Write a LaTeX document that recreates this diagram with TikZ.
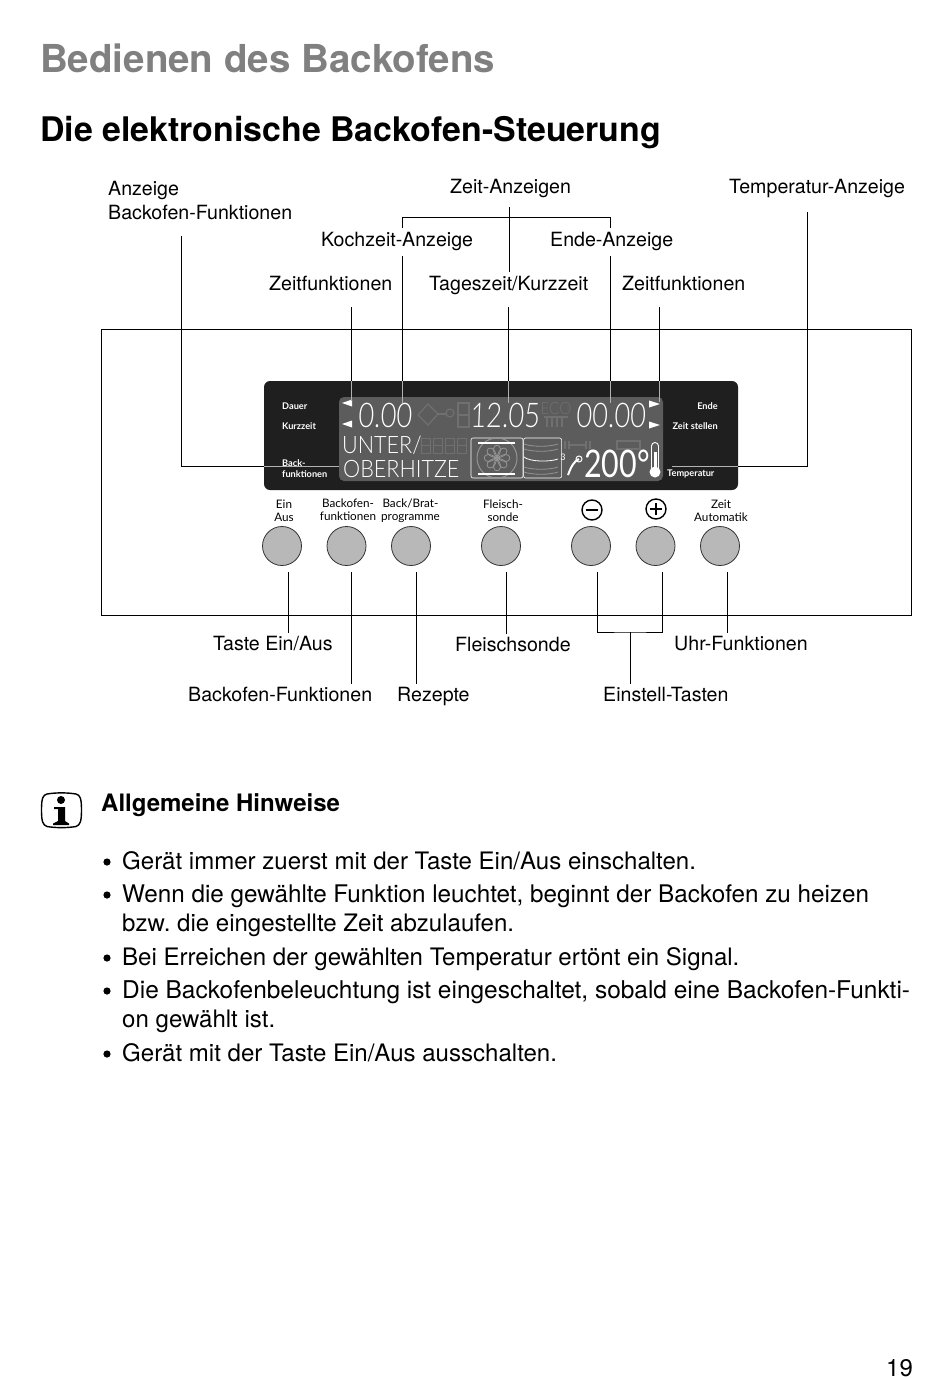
\documentclass[tikz,border=0pt]{standalone}
\usepackage{fontspec}
\usetikzlibrary{positioning}
\setmainfont{TeX Gyre Heros}
\newfontfamily\panelfont{Lato}
\newfontfamily\lcdfont[FakeStretch=0.8,FakeSlant=0.04]{Lato Light}
\newfontfamily\lcdtext[FakeStretch=0.9]{Lato Light}
\newfontfamily\lcdtemp[FakeStretch=0.8]{Lato}
\frenchspacing
\definecolor{titlegray}{gray}{0.5}
\definecolor{lcdgray}{gray}{0.36}
\definecolor{ghostgray}{gray}{0.44}
\definecolor{fangray}{gray}{0.58}
\definecolor{panelblack}{gray}{0.12}
\tikzset{
    lbl/.style = {inner sep=0pt, anchor=base west, font=\fontsize{19.6}{19.6}\selectfont},
    body/.style = {inner sep=0pt, anchor=base west, font=\fontsize{24.05}{24.05}\selectfont},
    tag/.style = {inner sep=0pt, align=center, text=white, font=\panelfont\bfseries\fontsize{9.2}{11.5}\selectfont},
    btntag/.style = {inner sep=0pt, align=center, font=\panelfont\fontsize{11.7}{13}\selectfont},
    lcd/.style = {inner sep=0pt, anchor=base west, text=white, font=\lcdfont\fontsize{34}{34}\selectfont},
    lcdline/.style = {inner sep=0pt, anchor=base west, text=white, font=\lcdtext\fontsize{24}{24}\selectfont},
    ghost/.style = {inner sep=0pt, text=ghostgray, font=\lcdtext\fontsize{17}{17}\selectfont},
    leader/.style = {draw=black, line width=0.9pt},
    leaderlit/.style = {draw=black!30, line width=0.9pt},
    button/.style = {circle, draw=black!80, line width=0.8pt, fill=black!28, minimum size=39pt, inner sep=0pt},
}
\begin{document}
\begin{tikzpicture}[x=1pt, y=-1pt]
    \useasboundingbox (0,0) rectangle (950,1378);

    % headings
    \node (title) [inner sep=0pt, anchor=base west, text=titlegray, font=\bfseries\fontsize{38.5}{38.5}\selectfont] at (40,73) {Bedienen des Backofens};
    \node (subtitle) [inner sep=0pt, anchor=base west, font=\bfseries\fontsize{33.9}{33.9}\selectfont] at (40,142) {Die elektronische Backofen-Steuerung};

    % housing and display
    \node (housing) [draw=black, line width=0.7pt, minimum width=810pt, minimum height=286pt, inner sep=0pt] at (506.5,472) {};
    \node (panel) [fill=panelblack, rounded corners=6pt, minimum width=474pt, minimum height=109pt, inner sep=0pt] at (501,435.5) {};
    \node (screen) [fill=lcdgray, rounded corners=5pt, minimum width=324pt, minimum height=84pt, inner sep=0pt] at (501,439) {};

    % labels left and right of the screen
    \node (tagDauer) [tag, anchor=west] at (282,406) {Dauer};
    \node (tagKurz) [tag, anchor=west] at (282,426) {Kurzzeit};
    \node (tagBack) [tag, anchor=west, align=left] at (282,468.5) {Back-\\funktionen};
    \node (tagEnde) [tag, anchor=east] at (718,406) {Ende};
    \node (tagStellen) [tag, anchor=east] at (718,426) {Zeit stellen};
    \node (tagTemp) [tag, anchor=west] at (667,474) {Temperatur};

    % unlit segments
    \node (ecoMark) [ghost] at (556,408) {ECO};
    \draw[ghostgray, line width=1.2pt] (544,417) -- (568,417);
    \foreach \tooth in {547,552,557,562}
        \draw[ghostgray, line width=1.2pt] (\tooth,417) -- (\tooth,427);
    \draw[ghostgray, line width=1.2pt] (418,415) -- (428,404) -- (438,414) -- (428,425) -- cycle;
    \draw[ghostgray, line width=1.2pt] (438,414) -- (446,414);
    \draw[ghostgray, line width=1.2pt] (450,413) circle (4pt);
    \draw[ghostgray, line width=1.2pt] (458,403) rectangle (469,427) (458,415) -- (469,415);
    \foreach \cell in {421,433,445,457}
        \draw[ghostgray, line width=1pt] (\cell,438) rectangle (\cell+9,453) (\cell,445.5) -- (\cell+9,445.5);
    \draw[ghostgray, line width=1.2pt] (565,441) -- (565,449) (569,441) -- (569,449) (569,445) -- (586,445) (586,441) -- (586,449) (590,441) -- (590,449);
    \draw[ghostgray, line width=1.2pt] (617,441) rectangle (640,449);

    % screen contents
    \node (zeitDauer) [lcd] at (358,427) {0.00};
    \node (zeitTag) [lcd] at (470,427) {12.05};
    \node (zeitEnde) [lcd] at (576,427) {00.00};
    \node (textUnter) [lcdline] at (342,453) {UNTER/};
    \node (textOber) [lcdline] at (343,477) {OBERHITZE};
    \node (tempWert) [inner sep=0pt, anchor=base west, text=white, font=\lcdtemp\fontsize{38}{38}\selectfont] at (584,477) {200°};
    \node (ovenThree) [inner sep=0pt, text=white, font=\panelfont\fontsize{9}{9}\selectfont] at (563,457) {3};

    % triangles
    \foreach \tx/\ty in {342/403, 342/424}
        \fill[white] (\tx,\ty) -- (\tx+10,\ty-3.5) -- (\tx+10,\ty+3.5) -- cycle;
    \foreach \tx/\ty in {649/404, 649/425}
        \fill[white] (\tx,\ty-3.5) -- (\tx+11,\ty) -- (\tx,\ty+3.5) -- cycle;

    % oven symbols in the screen
    \node (ovenFan) [draw=white, line width=0.6pt, rounded corners=2pt, minimum width=52pt, minimum height=40pt, inner sep=0pt] at (497,458) {};
    \node (ovenRack) [draw=white, line width=0.6pt, rounded corners=2pt, minimum width=38pt, minimum height=40pt, inner sep=0pt, right=0pt of ovenFan] {};
    \draw[fangray, line width=1pt] (ovenFan.center) circle (20pt);
    \foreach \petal in {0,45,...,315}
        \draw[fangray, line width=0.8pt, rotate around={\petal:(ovenFan.center)}] (ovenFan.center) .. controls (485,441) and (509,441) .. (ovenFan.center);
    \draw[white, line width=1.2pt] (478,443) -- (515,443);
    \draw[white, line width=1.2pt] (478,474) -- (515,474);
    \foreach \rack in {444,449,467,472}
        \draw[fangray, line width=0.8pt] (524,\rack) .. controls (532,\rack+3) and (550,\rack+3) .. (558,\rack);
    \draw[white, line width=0.8pt] (524,457) .. controls (530,462) and (550,462) .. (558,459);
    \draw[white, line width=2pt] (568,475) .. controls (571,467) and (574,461) .. (579,459);
    \draw[white, line width=1pt] (579,459) circle (3pt);
    % thermometer
    \draw[white, line width=0.9pt] (651.5,468) -- (651.5,446) arc (180:0:3.5pt) -- (658.5,468);
    \fill[white] (655,472) circle (5.5pt);
    \fill[white] (653.5,452) rectangle (656.5,468);

    % buttons
    \foreach \bname/\bx in {btnEin/282, btnBack/346.5, btnProg/411, btnSonde/501, btnMinus/591, btnPlus/655.5, btnZeit/720}
        \node (\bname) [button] at (\bx,546) {};

    % button captions
    \node (capEin) [btntag] at (284,511) {Ein\\Aus};
    \node (capBack) [btntag] at (348,510) {Backofen-\\funktionen};
    \node (capProg) [btntag] at (410.5,511) {Back/Brat-\\programme};
    \node (capSonde) [btntag] at (503,510.5) {Fleisch-\\sonde};
    \node (capZeit) [btntag] at (721,511) {Zeit\\Automatik};
    \node (symMinus) [circle, draw=black, line width=1.4pt, minimum size=20pt, inner sep=0pt] at (592,510) {};
    \node (symPlus) [circle, draw=black, line width=1.4pt, minimum size=20pt, inner sep=0pt] at (656,509) {};
    \draw[line width=1.5pt] ([xshift=-6pt]symMinus.center) -- ([xshift=6pt]symMinus.center);
    \draw[line width=1.5pt] ([xshift=-6pt]symPlus.center) -- ([xshift=6pt]symPlus.center);
    \draw[line width=1.5pt] ([yshift=-6pt]symPlus.center) -- ([yshift=6pt]symPlus.center);

    % top labels
    \node (lblAnzeige) [lbl, align=left, anchor=north west] at (108,181) {Anzeige\\[4pt]Backofen-Funktionen};
    \node (lblZeiten) [lbl] at (450,193) {Zeit-Anzeigen};
    \node (lblTemp) [lbl] at (729,193) {Temperatur-Anzeige};
    \node (lblKoch) [lbl] at (321,246) {Kochzeit-Anzeige};
    \node (lblEnde) [lbl] at (550,246) {Ende-Anzeige};
    \node (lblZeitL) [lbl] at (269,290) {Zeitfunktionen};
    \node (lblTag) [lbl] at (429,290) {Tageszeit/Kurzzeit};
    \node (lblZeitR) [lbl] at (622,290) {Zeitfunktionen};

    % bottom labels
    \node (lblTaste) [lbl] at (213,650) {Taste Ein/Aus};
    \node (lblSonde) [lbl] at (455,651) {Fleischsonde};
    \node (lblUhr) [lbl] at (674,650) {Uhr-Funktionen};
    \node (lblFunk) [lbl] at (188,701) {Backofen-Funktionen};
    \node (lblRezept) [lbl] at (397,701) {Rezepte};
    \node (lblEinst) [lbl] at (603,701) {Einstell-Tasten};

    % connector ends
    \coordinate (tipAnzeige) at (339,466);
    \coordinate (tipTemp) at (672,466);
    \coordinate (tipZeitL) at (351.5,401);
    \coordinate (tipKoch) at (402.5,403);
    \coordinate (tipTag) at (508.5,403);
    \coordinate (tipEnde) at (610.5,403);
    \coordinate (tipZeitR) at (659.5,402);
    \coordinate (tieTop) at (509.5,217);
    \coordinate (tieBot) at (630.5,632);
    \coordinate (footEin) at (288.5,572);
    \coordinate (footBack) at (351.5,572);
    \coordinate (footProg) at (416.5,572);
    \coordinate (footSonde) at (506.5,572);
    \coordinate (footMinus) at (597.5,572);
    \coordinate (footPlus) at (662.5,572);
    \coordinate (footZeit) at (727.5,572);

    % connectors above the panel
    \draw[leader] (181.5,236) |- (panel.west |- tipAnzeige);
    \draw[leaderlit] (panel.west |- tipAnzeige) -- (tipAnzeige);
    \draw[leader] (807.5,212) |- (panel.east |- tipTemp);
    \draw[leaderlit] (panel.east |- tipTemp) -- (tipTemp);
    \draw[leader] (tipZeitL |- 0,307) -- (tipZeitL |- panel.north);
    \draw[leader] (tipKoch |- 0,256) -- (tipKoch |- panel.north);
    \draw[leader] (tipTag |- 0,307) -- (tipTag |- panel.north);
    \draw[leader] (tipEnde |- 0,256) -- (tipEnde |- panel.north);
    \draw[leader] (tipZeitR |- 0,307) -- (tipZeitR |- panel.north);
    \foreach \tip in {tipZeitL, tipKoch, tipTag, tipEnde, tipZeitR}
        \draw[leaderlit] (\tip |- panel.north) -- (\tip);
    \draw[leader] (402.5,228) |- (610.5,217) -- (610.5,228);
    \draw[leader] (tieTop |- 0,207) -- (tieTop |- 0,272);

    % connectors below the panel
    \draw[leader] (footEin) -- (footEin |- 0,633);
    \draw[leader] (footBack) -- (footBack |- 0,684);
    \draw[leader] (footProg) -- (footProg |- 0,684);
    \draw[leader] (footSonde) -- (footSonde |- 0,634);
    \draw[leader] (footZeit) -- (footZeit |- 0,633);
    \draw[leader] (footMinus) |- (tieBot) -| (footPlus);
    \draw[leader] (tieBot) -- (tieBot |- 0,684);

    % info symbol
    \draw[line width=1.4pt] (47,794) .. controls (56,792.5) and (67,792.5) .. (76,794)
        .. controls (80,795) and (81.5,798) .. (81.5,810) .. controls (81.5,822) and (80,825) .. (76,826.5)
        .. controls (67,828) and (56,828) .. (47,826.5) .. controls (43,825) and (41.5,822) .. (41.5,810)
        .. controls (41.5,798) and (43,795) .. (47,794) -- cycle;
    \fill (61,800) circle (4pt);
    \fill (54,807) -- (65,807) -- (65,821) -- (69,823.5) -- (69,825) -- (53,825) -- (53,823.5) -- (58,821) -- (58,809) -- (54,809) -- cycle;

    % notes
    \node (noteHead) [inner sep=0pt, anchor=base west, font=\bfseries\fontsize{24}{24}\selectfont] at (101,811) {Allgemeine Hinweise};
    \foreach \by in {869,902,965,998,1061}
        \fill (107,\by-7) circle (3.6pt);
    \node (noteA) [body] at (122,869) {Gerät immer zuerst mit der Taste Ein/Aus einschalten.};
    \node (noteB) [body, font=\fontsize{24.25}{24.25}\selectfont] at (122,902) {Wenn die gewählte Funktion leuchtet, beginnt der Backofen zu heizen};
    \node (noteBb) [body] at (122,931) {bzw. die eingestellte Zeit abzulaufen.};
    \node (noteC) [body] at (122,965) {Bei Erreichen der gewählten Temperatur ertönt ein Signal.};
    \node (noteD) [body, font=\fontsize{24.45}{24.45}\selectfont] at (122,998) {Die Backofenbeleuchtung ist eingeschaltet, sobald eine Backofen-Funkti-};
    \node (noteDb) [body] at (122,1027) {on gewählt ist.};
    \node (noteE) [body] at (122,1061) {Gerät mit der Taste Ein/Aus ausschalten.};

    \node (pageNum) [inner sep=0pt, anchor=base west, font=\fontsize{24}{24}\selectfont] at (886,1376) {19};
\end{tikzpicture}
\end{document}
